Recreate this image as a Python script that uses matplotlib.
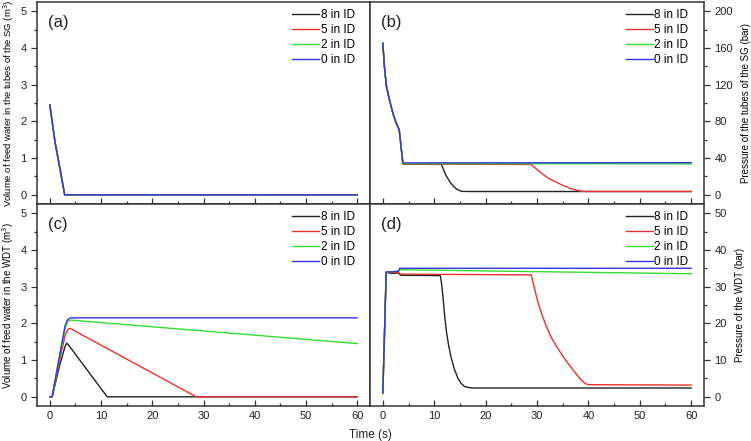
import matplotlib
matplotlib.use("Agg")
import matplotlib.pyplot as plt
from matplotlib.ticker import MultipleLocator

plt.rcParams['font.family'] = ['Liberation Sans', 'DejaVu Sans']

labels = ["8 in ID", "5 in ID", "2 in ID", "0 in ID"]
colors = ["#222222", "#e8312b", "#33dd33", "#3333dd"]

# (a) volume of feed water in SG tubes (identical for all cases)
t_a = [0, 0.5, 1.0, 2.0, 2.9, 60]
vol_sg = [2.45, 1.95, 1.45, 0.7, 0.0, 0.0]

# (b) pressure of SG tubes
t_b_black = [0, 0.3, 0.7, 1.3, 2.0, 2.6, 3.05, 3.2, 3.9, 11.4, 11.8, 12.3, 13.0, 13.7, 14.4, 15.3, 16.5, 60]
p_b_black = [165, 140, 118, 103, 88, 78, 72.5, 70, 33.5, 33.0, 27.5, 21.0, 14.5, 9.5, 6.0, 3.8, 3.6, 3.6]
t_b_red = [0, 0.3, 0.7, 1.3, 2.0, 2.6, 3.05, 3.2, 3.9, 28.9, 29.9, 30.9, 31.8, 32.8, 34.8, 36.7, 38.7, 40, 60]
p_b_red = [165, 140, 118, 103, 88, 78, 72.5, 70, 33.5, 33.0, 28.0, 23.5, 19.6, 16.3, 10.9, 6.5, 3.8, 3.6, 3.6]
t_b_green = [0, 0.3, 0.7, 1.3, 2.0, 2.6, 3.05, 3.2, 3.9, 60]
p_b_green = [165, 140, 118, 103, 88, 78, 72.5, 70, 34.0, 33.7]
t_b_blue = [0, 0.3, 0.7, 1.3, 2.0, 2.6, 3.05, 3.2, 3.9, 60]
p_b_blue = [165, 140, 118, 103, 88, 78, 72.5, 70, 34.8, 35.0]

# (c) volume of feed water in WDT
t_c_black = [0, 0.45, 2.0, 3.0, 3.3, 3.6, 11.2, 60]
v_c_black = [0, 0, 0.9, 1.38, 1.46, 1.42, 0, 0]
t_c_red = [0, 0.45, 2.0, 3.0, 3.6, 4.0, 28.6, 60]
v_c_red = [0, 0, 1.05, 1.68, 1.85, 1.86, 0, 0]
t_c_green = [0, 0.45, 2.0, 3.0, 3.5, 4.0, 60]
v_c_green = [0, 0, 1.15, 1.88, 2.06, 2.09, 1.45]
t_c_blue = [0, 0.45, 2.0, 3.0, 3.5, 4.0, 60]
v_c_blue = [0, 0, 1.2, 1.95, 2.1, 2.15, 2.15]

# (d) pressure of WDT
t_d_black = [0, 0.65, 1.5, 3.0, 3.5, 11.2, 11.45, 11.7, 12.0, 12.35, 12.8, 13.3, 13.9, 14.6, 15.2, 15.9, 16.8, 17.9, 60]
p_d_black = [1.0, 34.0, 33.6, 33.7, 33.1, 33.0, 30.5, 27.2, 22.5, 18.0, 14.0, 10.6, 7.6, 5.1, 3.7, 2.8, 2.5, 2.4, 2.4]
t_d_red = [0, 0.65, 1.5, 3.0, 3.5, 28.9, 29.2, 29.6, 30.2, 30.9, 31.8, 32.8, 33.8, 34.8, 35.7, 36.7, 37.7, 38.7, 39.4, 40.0, 60]
p_d_red = [1.0, 34.0, 33.8, 33.9, 33.4, 33.2, 31.3, 29.0, 25.6, 22.6, 19.2, 16.1, 13.7, 11.6, 9.7, 7.9, 6.1, 4.4, 3.6, 3.3, 3.2]
t_d_green = [0, 0.65, 1.5, 3.0, 3.5, 60]
p_d_green = [1.0, 34.0, 34.0, 34.2, 34.6, 33.5]
t_d_blue = [0, 0.65, 1.5, 3.0, 3.3, 60]
p_d_blue = [1.0, 34.0, 34.0, 34.2, 35.0, 35.0]

fig = plt.figure(figsize=(7.51, 4.41), dpi=100)
L, M, R = 37/751, 370/751, 704/751
T, Hm, B = 1 - 2/441, 1 - 204/441, 1 - 406/441

ax_a = fig.add_axes([L, Hm, M - L, T - Hm])
ax_b = fig.add_axes([M, Hm, R - M, T - Hm])
ax_c = fig.add_axes([L, B, M - L, Hm - B])
ax_d = fig.add_axes([M, B, R - M, Hm - B])

spine_c = "#333333"
for ax in (ax_a, ax_b, ax_c, ax_d):
    for s in ax.spines.values():
        s.set_color(spine_c)
        s.set_linewidth(1.1)
    ax.set_xlim(-2.5, 62.5)
    ax.xaxis.set_major_locator(MultipleLocator(10))
    ax.xaxis.set_minor_locator(MultipleLocator(5))
    ax.tick_params(axis='x', which='both', direction='in', colors=spine_c, labelcolor='#222222', labelsize=8)
    ax.tick_params(axis='x', which='major', length=4, width=0.9)
    ax.tick_params(axis='x', which='minor', length=2, width=0.9)
    ax.tick_params(axis='y', which='both', direction='out', colors=spine_c, labelcolor='#222222', labelsize=8)
    ax.tick_params(axis='y', which='major', length=4, width=0.9)
    ax.tick_params(axis='y', which='minor', length=2, width=0.9)

for ax in (ax_a, ax_b):
    ax.tick_params(axis='x', labelbottom=False)

# left panels
for ax in (ax_a, ax_c):
    ax.set_ylim(-0.25, 5.25)
    ax.yaxis.set_major_locator(MultipleLocator(1))
    ax.yaxis.set_minor_locator(MultipleLocator(0.5))

# right panels
for ax in (ax_b, ax_d):
    ax.yaxis.tick_right()
    ax.yaxis.set_label_position('right')
ax_b.set_ylim(-10, 210)
ax_b.yaxis.set_major_locator(MultipleLocator(40))
ax_b.yaxis.set_minor_locator(MultipleLocator(20))
ax_d.set_ylim(-2.5, 52.5)
ax_d.yaxis.set_major_locator(MultipleLocator(10))
ax_d.yaxis.set_minor_locator(MultipleLocator(5))

lw = 1.0
for lab, col in zip(labels, colors):
    ax_a.plot(t_a, vol_sg, color=col, lw=lw, label=lab)

for t, p, lab, col in zip([t_b_black, t_b_red, t_b_green, t_b_blue],
                          [p_b_black, p_b_red, p_b_green, p_b_blue], labels, colors):
    ax_b.plot(t, p, color=col, lw=lw, label=lab)

for t, v, lab, col in zip([t_c_black, t_c_red, t_c_green, t_c_blue],
                          [v_c_black, v_c_red, v_c_green, v_c_blue], labels, colors):
    ax_c.plot(t, v, color=col, lw=lw, label=lab)

for t, p, lab, col in zip([t_d_black, t_d_red, t_d_green, t_d_blue],
                          [p_d_black, p_d_red, p_d_green, p_d_blue], labels, colors):
    ax_d.plot(t, p, color=col, lw=lw, label=lab)

for ax, tag in zip((ax_a, ax_b, ax_c, ax_d), ("(a)", "(b)", "(c)", "(d)")):
    ax.text(0.033, 0.9, tag, transform=ax.transAxes, fontsize=12, color='#222222', va='center', ha='left')
    ax.legend(loc='upper right', bbox_to_anchor=(1 - 13/333, 1 - 5/202), frameon=False,
              fontsize=8.5, handlelength=2.3, handletextpad=0.1, labelspacing=0.25,
              borderaxespad=0, borderpad=0.2)

ax_a.set_ylabel("Volume of feed water in the tubes of the SG (m$^3$)", fontsize=6.8, labelpad=3)
ax_c.set_ylabel("Volume of feed water in the WDT (m$^3$)", fontsize=7.0, labelpad=3)
ax_b.set_ylabel("Pressure of the tubes of the SG (bar)", fontsize=7.0, labelpad=6)
ax_d.set_ylabel("Pressure of the WDT (bar)", fontsize=7.0, labelpad=6)
fig.text(M, 1 - 435/441, "Time (s)", ha='center', va='center', fontsize=8.5, color='#222222')

fig.savefig("out.png", dpi=100)
